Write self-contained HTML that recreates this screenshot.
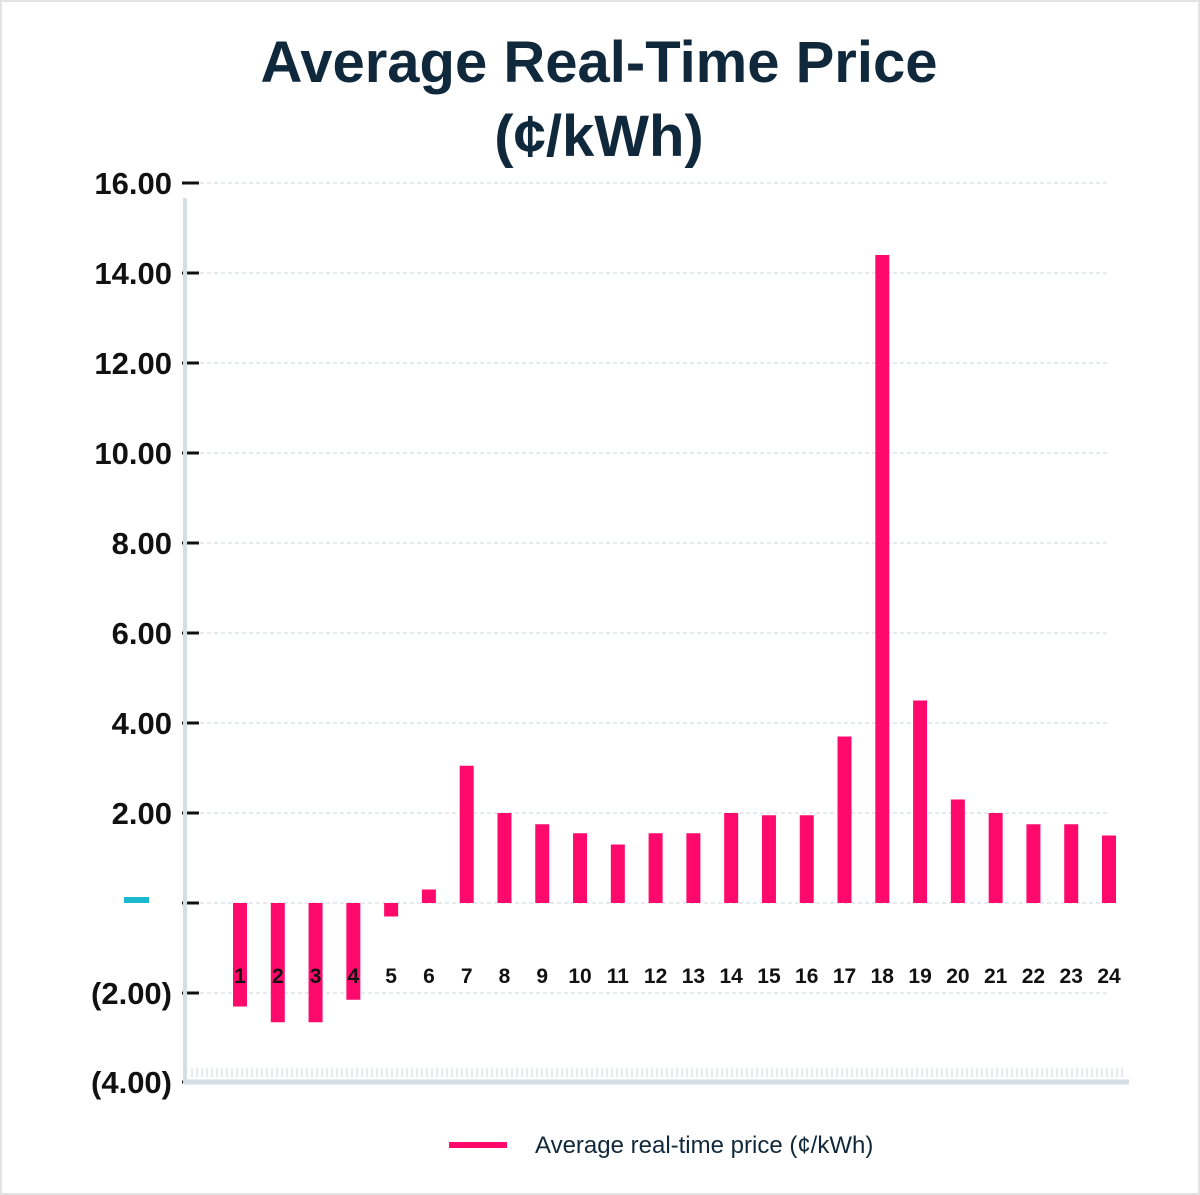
<!DOCTYPE html>
<html><head><meta charset="utf-8">
<style>
body{margin:0;background:#fff;}
#wrap{position:relative;width:1200px;height:1195px;overflow:hidden;background:#fff;box-sizing:border-box;border:2px solid #e3e3e3;}
svg text{font-family:"Liberation Sans",sans-serif;}
</style></head>
<body>
<div id="wrap">
<svg id="chart" width="1200" height="1195">
<text x="597" y="80" text-anchor="middle" font-size="58" font-weight="bold" fill="#10283b">Average Real-Time Price</text>
<text x="597" y="154" text-anchor="middle" font-size="58" font-weight="bold" fill="#10283b">(¢/kWh)</text>
<g id="grid"></g>
<line x1="183" y1="196" x2="183" y2="1082" stroke="#d5dde5" stroke-width="4"/>
<line x1="183" y1="1080" x2="1127" y2="1080" stroke="#d5dde5" stroke-width="5"/>
<g id="hatch"></g>
<g id="bars"></g>
<g id="xlabels"></g>
<rect x="122" y="895" width="25" height="6" fill="#1bb8d0"/>
<g>
<line x1="447" y1="1143" x2="505" y2="1143" stroke="#ff0a6c" stroke-width="6"/>
<text x="533" y="1151" font-size="24" fill="#10283b">Average real-time price  (¢/kWh)</text>
</g>
</svg>
</div>
<script>
const categories=["1","2","3","4","5","6","7","8","9","10","11","12","13","14","15","16","17","18","19","20","21","22","23","24"];
const values=[-2.3,-2.65,-2.65,-2.15,-0.3,0.3,3.05,2.0,1.75,1.55,1.3,1.55,1.55,2.0,1.95,1.95,3.7,14.4,4.5,2.3,2.0,1.75,1.75,1.5];
const tickValues=[16,14,12,10,8,6,4,2,0,-2,-4];
const tickLabels=["16.00","14.00","12.00","10.00","8.00","6.00","4.00","2.00","","(2.00)","(4.00)"];
const NS="http://www.w3.org/2000/svg";
const yMin=-4,yMax=16,pyBottom=1081,pyTop=181;
function y(v){return pyBottom-(v-yMin)/(yMax-yMin)*(pyBottom-pyTop);}
const x0=238,x1=1107;
function x(i){return x0+i*(x1-x0)/(categories.length-1);}
function mk(tag,attrs,parent){const e=document.createElementNS(NS,tag);for(const k in attrs)e.setAttribute(k,attrs[k]);parent.appendChild(e);return e;}
const grid=document.getElementById('grid');
tickValues.forEach((v,i)=>{
  const yy=Math.min(y(v),1080);
  if(v!==-4){const g=mk('line',{x1:198,x2:1105,y1:yy,y2:yy,stroke:'#c9d6e0','stroke-width':1,'stroke-dasharray':'4 3'},grid);
  
  }
  const t=mk('line',{x1:180,x2:197,y1:yy,y2:yy,stroke:'#111','stroke-width':3},grid);
  
  
  if(tickLabels[i]){const tx=mk('text',{x:170,y:yy+11,'text-anchor':'end','font-size':31,'font-weight':'bold',fill:'#111'},grid);
  tx.textContent=tickLabels[i];
  
  }
});
const hatch=document.getElementById('hatch');
for(let hx=190;hx<1125;hx+=5){const h=mk('line',{x1:hx,x2:hx,y1:1066,y2:1075,stroke:'#dfe4ea','stroke-width':1.5},hatch);

}
const bars=document.getElementById('bars'),xl=document.getElementById('xlabels');
values.forEach((v,i)=>{
  const cx=x(i),top=Math.min(y(v),y(0)),h=Math.abs(y(v)-y(0));
  const r=mk('rect',{x:cx-7,y:top,width:14,height:h,fill:'#ff0a6c'},bars);
  
  
  const t=mk('text',{x:cx,y:981,'text-anchor':'middle','font-size':21,'font-weight':'bold',fill:'#111'},xl);
  t.textContent=categories[i];
  
  
});
</script>
</body></html>
